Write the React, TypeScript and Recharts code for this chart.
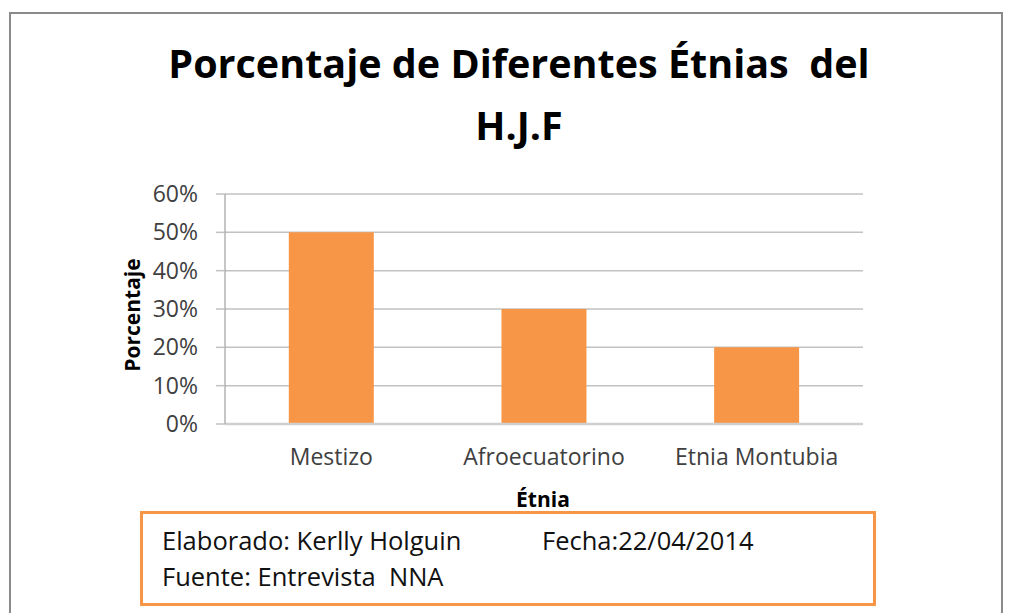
import { BarChart, Bar, XAxis, YAxis, CartesianGrid, Label } from 'recharts';

const categories = ['Mestizo', 'Afroecuatorino', 'Etnia Montubia'];
const percentages = [0.5, 0.3, 0.2];
const yTicks = [0, 0.1, 0.2, 0.3, 0.4, 0.5, 0.6];

const data = categories.map((name, i) => ({ name, value: percentages[i] }));

const FONT = '"Open Sans", sans-serif';

function YLabel({ viewBox }: any) {
  const cx = viewBox.x - 33;
  const cy = viewBox.y + viewBox.height / 2 + 6;
  return (
    <text
      x={cx}
      y={cy}
      transform={`rotate(-90, ${cx}, ${cy})`}
      textAnchor="middle"
      dominantBaseline="central"
      fontFamily={FONT}
      fontWeight={700}
      fontSize={21}
      fill="#000"
    >
      Porcentaje
    </text>
  );
}

function XLabel({ viewBox }: any) {
  return (
    <text
      x={viewBox.x + viewBox.width / 2 - 1}
      y={507}
      textAnchor="middle"
      fontFamily={FONT}
      fontWeight={700}
      fontSize={21}
      fill="#000"
    >
      Étnia
    </text>
  );
}

export default function App() {
  return (
    <div style={{ position: 'absolute', left: 0, top: 0, width: 1018, height: 613, overflow: 'hidden', background: '#fff' }}>
      <div
        style={{
          position: 'absolute',
          left: 9,
          top: 12,
          width: 994,
          height: 700,
          border: '2px solid #8a8a8a',
          boxSizing: 'border-box',
        }}
      />
      <svg width={1018} height={160} style={{ position: 'absolute', left: 0, top: 0 }}>
        <text x={519} y={78} textAnchor="middle" fontFamily={FONT} fontWeight={700} fontSize={39.5} fill="#000">
          {'Porcentaje de Diferentes Étnias \u00A0del'}
        </text>
        <text x={519} y={140} textAnchor="middle" fontFamily={FONT} fontWeight={700} fontSize={39.5} fill="#000">
          H.J.F
        </text>
      </svg>
      <div style={{ position: 'absolute', left: 0, top: 0 }}>
        <BarChart
          width={1018}
          height={613}
          data={data}
          margin={{ top: 194, right: 155, left: 165, bottom: 159 }}
          barCategoryGap="30%"
        >
          <CartesianGrid vertical={false} stroke="#c2c2c2" strokeWidth={1.5} />
          <XAxis
            dataKey="name"
            height={30}
            tickLine={false}
            tickSize={0}
            tickMargin={25}
            axisLine={{ stroke: '#cfcfcf', strokeWidth: 2.5 }}
            tick={{ fill: '#404040', fontSize: 23, fontFamily: FONT }}
            interval={0}
          >
            <Label content={<XLabel />} />
          </XAxis>
          <YAxis
            width={60}
            domain={[0, 0.6]}
            ticks={yTicks}
            interval={0}
            tickFormatter={(v: number) => `${Math.round(v * 100)}%`}
            tickSize={9}
            tickMargin={18}
            tickLine={{ stroke: '#c2c2c2', strokeWidth: 1.5 }}
            axisLine={{ stroke: '#8c8c8c', strokeWidth: 1 }}
            tick={{ fill: '#404040', fontSize: 23, fontFamily: FONT }}
          >
            <Label content={<YLabel />} />
          </YAxis>
          <Bar dataKey="value" fill="#F79646" isAnimationActive={false} />
        </BarChart>
      </div>
      <div
        style={{
          position: 'absolute',
          left: 140,
          top: 511,
          width: 736,
          height: 95,
          border: '3px solid #F79646',
          boxSizing: 'border-box',
        }}
      />
      <svg width={1018} height={613} style={{ position: 'absolute', left: 0, top: 0, pointerEvents: 'none' }}>
        <text x={162} y={550} fontFamily={FONT} fontSize={25.5} fill="#111">
          Elaborado: Kerlly Holguin
        </text>
        <text x={542} y={550} fontFamily={FONT} fontSize={25.5} fill="#111">
          Fecha:22/04/2014
        </text>
        <text x={162} y={586} fontFamily={FONT} fontSize={25.5} fill="#111">
          {'Fuente: Entrevista \u00A0NNA'}
        </text>
      </svg>
    </div>
  );
}
